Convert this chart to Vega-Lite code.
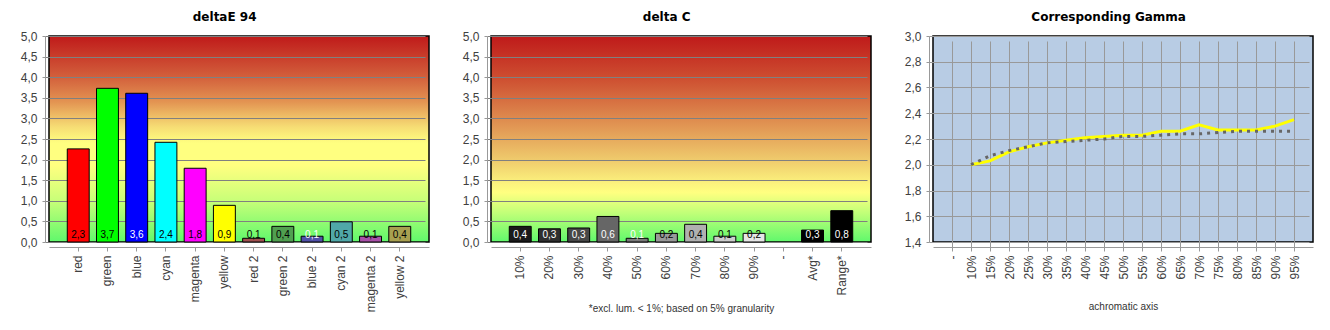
{
  "$schema": "https://vega.github.io/schema/vega-lite/v6.json",
  "background": "white",
  "padding": {"left": 19, "top": 10, "right": 5, "bottom": 5},
  "spacing": 31,
  "config": {
    "locale": {"number": {"decimal": ",", "thousands": ".", "grouping": [3], "currency": ["", ""]}},
    "font": "Liberation Sans",
    "title": {"font": "DejaVu Sans", "fontSize": 12, "fontWeight": "bold", "color": "#000000", "offset": 6, "frame": "bounds", "anchor": "middle"},
    "axis": {"labelFont": "Liberation Sans", "labelFontSize": 12, "labelColor": "#404040", "domainColor": "#999999", "tickColor": "#999999", "titleFont": "Liberation Sans", "titleFontSize": 10, "titleFontWeight": "normal", "titleColor": "#333333", "labelOverlap": false},
    "axisX": {"offset": 5, "tickSize": 4, "labelPadding": 4, "labelAngle": -90, "grid": false},
    "axisY": {"offset": 4, "tickSize": 3, "labelPadding": 5, "gridColor": "#808080", "gridOpacity": 1}
  },
  "hconcat": [
    {
      "width": 380, "height": 206,
      "title": "deltaE 94",
      "view": {"stroke": "#000000", "strokeWidth": 1.5, "fill": {"gradient": "linear", "x1": 0, "y1": 0, "x2": 0, "y2": 1, "stops": [
        {"offset": 0, "color": "#bf1a1a"},
        {"offset": 0.2, "color": "#d3603c"},
        {"offset": 0.32, "color": "#e39452"},
        {"offset": 0.44, "color": "#f6dc74"},
        {"offset": 0.52, "color": "#ffff80"},
        {"offset": 0.63, "color": "#ffff80"},
        {"offset": 0.8, "color": "#c8ff78"},
        {"offset": 1, "color": "#60f86c"}]}},
      "data": {"values": [
        {"name": "red", "v": 2.26},
        {"name": "green", "v": 3.73},
        {"name": "blue", "v": 3.61},
        {"name": "cyan", "v": 2.42},
        {"name": "magenta", "v": 1.79},
        {"name": "yellow", "v": 0.89},
        {"name": "red 2", "v": 0.09},
        {"name": "green 2", "v": 0.38},
        {"name": "blue 2", "v": 0.14},
        {"name": "cyan 2", "v": 0.49},
        {"name": "magenta 2", "v": 0.14},
        {"name": "yellow 2", "v": 0.38}
      ]},
      "encoding": {
        "x": {"field": "name", "type": "nominal", "title": null,
          "scale": {"domain": ["red", "green", "blue", "cyan", "magenta", "yellow", "red 2", "green 2", "blue 2", "cyan 2", "magenta 2", "yellow 2"], "paddingInner": 0.25, "paddingOuter": 0.625}}
      },
      "resolve": {"scale": {"color": "independent"}},
      "layer": [
        {
          "mark": {"type": "bar", "stroke": "#000000", "strokeWidth": 1},
          "encoding": {
            "y": {"field": "v", "type": "quantitative", "title": null,
              "scale": {"domain": [0, 5], "nice": false},
              "axis": {"values": [0, 0.5, 1, 1.5, 2, 2.5, 3, 3.5, 4, 4.5, 5], "format": ".1f", "grid": true, "gridColor": "#808080"}},
            "color": {"field": "name", "type": "nominal", "legend": null,
              "scale": {"domain": ["red", "green", "blue", "cyan", "magenta", "yellow", "red 2", "green 2", "blue 2", "cyan 2", "magenta 2", "yellow 2"],
                "range": ["#ff0000", "#00ff00", "#0000ff", "#00ffff", "#ff00ff", "#ffff00", "#a05050", "#50a050", "#5050a8", "#50a8a8", "#a850a8", "#a8a050"]}}
          }
        },
        {
          "mark": {"type": "text", "baseline": "alphabetic", "dy": -4, "fontSize": 10, "font": "Liberation Sans"},
          "encoding": {
            "y": {"datum": 0, "type": "quantitative",
              "axis": {"values": [0, 0.5, 1, 1.5, 2, 2.5, 3, 3.5, 4, 4.5, 5], "format": ".1f", "grid": true, "gridColor": "#808080"}},
            "text": {"field": "v", "type": "quantitative", "format": ".1f"},
            "color": {"field": "name", "type": "nominal", "legend": null,
              "scale": {"domain": ["red", "green", "blue", "cyan", "magenta", "yellow", "red 2", "green 2", "blue 2", "cyan 2", "magenta 2", "yellow 2"],
                "range": ["#000000", "#000000", "#ffffff", "#000000", "#000000", "#000000", "#000000", "#000000", "#ffffff", "#000000", "#000000", "#000000"]}}
          }
        }
      ]
    },
    {
      "width": 380, "height": 206,
      "title": "delta C",
      "view": {"stroke": "#000000", "strokeWidth": 1.5, "fill": {"gradient": "linear", "x1": 0, "y1": 0, "x2": 0, "y2": 1, "stops": [
        {"offset": 0, "color": "#bf1a1a"},
        {"offset": 0.2, "color": "#cd4d30"},
        {"offset": 0.4, "color": "#de8a4e"},
        {"offset": 0.6, "color": "#efca6c"},
        {"offset": 0.72, "color": "#fcf47e"},
        {"offset": 0.76, "color": "#ffff80"},
        {"offset": 0.86, "color": "#c0ff78"},
        {"offset": 1, "color": "#60f86c"}]}},
      "data": {"values": [
        {"name": "10%", "v": 0.38},
        {"name": "20%", "v": 0.32},
        {"name": "30%", "v": 0.34},
        {"name": "40%", "v": 0.62},
        {"name": "50%", "v": 0.09},
        {"name": "60%", "v": 0.21},
        {"name": "70%", "v": 0.43},
        {"name": "80%", "v": 0.14},
        {"name": "90%", "v": 0.21},
        {"name": "-", "v": null},
        {"name": "Avg*", "v": 0.29},
        {"name": "Range*", "v": 0.76}
      ]},
      "encoding": {
        "x": {"field": "name", "type": "nominal", "title": "*excl. lum. < 1%; based on 5% granularity",
          "axis": {"titlePadding": 8},
          "scale": {"domain": ["10%", "20%", "30%", "40%", "50%", "60%", "70%", "80%", "90%", "-", "Avg*", "Range*"], "paddingInner": 0.25, "paddingOuter": 0.625}}
      },
      "resolve": {"scale": {"color": "independent"}},
      "layer": [
        {
          "mark": {"type": "bar", "stroke": "#000000", "strokeWidth": 1},
          "encoding": {
            "y": {"field": "v", "type": "quantitative", "title": null,
              "scale": {"domain": [0, 5], "nice": false},
              "axis": {"values": [0, 0.5, 1, 1.5, 2, 2.5, 3, 3.5, 4, 4.5, 5], "format": ".1f", "grid": true, "gridColor": "#808080"}},
            "color": {"field": "name", "type": "nominal", "legend": null,
              "scale": {"domain": ["10%", "20%", "30%", "40%", "50%", "60%", "70%", "80%", "90%", "-", "Avg*", "Range*"],
                "range": ["#1a1a1a", "#2e2e2e", "#474747", "#666666", "#7a7a7a", "#999999", "#b0b0b0", "#cccccc", "#e6e6e6", "#ffffff", "#000000", "#000000"]}}
          }
        },
        {
          "transform": [{"filter": "datum.v != null"}],
          "mark": {"type": "text", "baseline": "alphabetic", "dy": -4, "fontSize": 10, "font": "Liberation Sans"},
          "encoding": {
            "y": {"datum": 0, "type": "quantitative",
              "axis": {"values": [0, 0.5, 1, 1.5, 2, 2.5, 3, 3.5, 4, 4.5, 5], "format": ".1f", "grid": true, "gridColor": "#808080"}},
            "text": {"field": "v", "type": "quantitative", "format": ".1f"},
            "color": {"field": "name", "type": "nominal", "legend": null,
              "scale": {"domain": ["10%", "20%", "30%", "40%", "50%", "60%", "70%", "80%", "90%", "-", "Avg*", "Range*"],
                "range": ["#ffffff", "#ffffff", "#ffffff", "#ffffff", "#ffffff", "#000000", "#000000", "#000000", "#000000", "#000000", "#ffffff", "#ffffff"]}}
          }
        }
      ]
    },
    {
      "width": 380, "height": 206,
      "title": "Corresponding Gamma",
      "view": {"stroke": "#000000", "strokeWidth": 1.5, "fill": "#b8cce4"},
      "data": {"values": [
        {"step": "10%", "series": "measured", "g": 2.0},
        {"step": "15%", "series": "measured", "g": 2.03},
        {"step": "20%", "series": "measured", "g": 2.10},
        {"step": "25%", "series": "measured", "g": 2.14},
        {"step": "30%", "series": "measured", "g": 2.17},
        {"step": "35%", "series": "measured", "g": 2.19},
        {"step": "40%", "series": "measured", "g": 2.21},
        {"step": "45%", "series": "measured", "g": 2.22},
        {"step": "50%", "series": "measured", "g": 2.23},
        {"step": "55%", "series": "measured", "g": 2.23},
        {"step": "60%", "series": "measured", "g": 2.26},
        {"step": "65%", "series": "measured", "g": 2.26},
        {"step": "70%", "series": "measured", "g": 2.31},
        {"step": "75%", "series": "measured", "g": 2.27},
        {"step": "80%", "series": "measured", "g": 2.27},
        {"step": "85%", "series": "measured", "g": 2.27},
        {"step": "90%", "series": "measured", "g": 2.30},
        {"step": "95%", "series": "measured", "g": 2.35},
        {"step": "10%", "series": "reference", "g": 2.0},
        {"step": "15%", "series": "reference", "g": 2.07},
        {"step": "20%", "series": "reference", "g": 2.11},
        {"step": "25%", "series": "reference", "g": 2.14},
        {"step": "30%", "series": "reference", "g": 2.17},
        {"step": "35%", "series": "reference", "g": 2.18},
        {"step": "40%", "series": "reference", "g": 2.19},
        {"step": "45%", "series": "reference", "g": 2.20},
        {"step": "50%", "series": "reference", "g": 2.22},
        {"step": "55%", "series": "reference", "g": 2.22},
        {"step": "60%", "series": "reference", "g": 2.23},
        {"step": "65%", "series": "reference", "g": 2.24},
        {"step": "70%", "series": "reference", "g": 2.24},
        {"step": "75%", "series": "reference", "g": 2.25},
        {"step": "80%", "series": "reference", "g": 2.26},
        {"step": "85%", "series": "reference", "g": 2.26},
        {"step": "90%", "series": "reference", "g": 2.26},
        {"step": "95%", "series": "reference", "g": 2.26}
      ]},
      "encoding": {
        "x": {"field": "step", "type": "ordinal", "title": "achromatic axis",
          "axis": {"grid": true, "gridColor": "#999999", "gridOpacity": 1, "titlePadding": 22},
          "scale": {"type": "point", "padding": 1.44, "domain": ["-", "10%", "15%", "20%", "25%", "30%", "35%", "40%", "45%", "50%", "55%", "60%", "65%", "70%", "75%", "80%", "85%", "90%", "95%"]}},
        "y": {"field": "g", "type": "quantitative", "title": null,
          "scale": {"domain": [1.4, 3.0], "nice": false, "zero": false},
          "axis": {"values": [1.4, 1.6, 1.8, 2.0, 2.2, 2.4, 2.6, 2.8, 3.0], "format": ".1f", "grid": true, "gridColor": "#999999"}}
      },
      "layer": [
        {
          "transform": [{"filter": "datum.series === 'measured'"}],
          "mark": {"type": "line", "color": "#ffff00", "strokeWidth": 3}
        },
        {
          "transform": [{"filter": "datum.series === 'reference'"}],
          "mark": {"type": "line", "color": "#666666", "strokeWidth": 3, "strokeDash": [3, 5]}
        }
      ]
    }
  ]
}
